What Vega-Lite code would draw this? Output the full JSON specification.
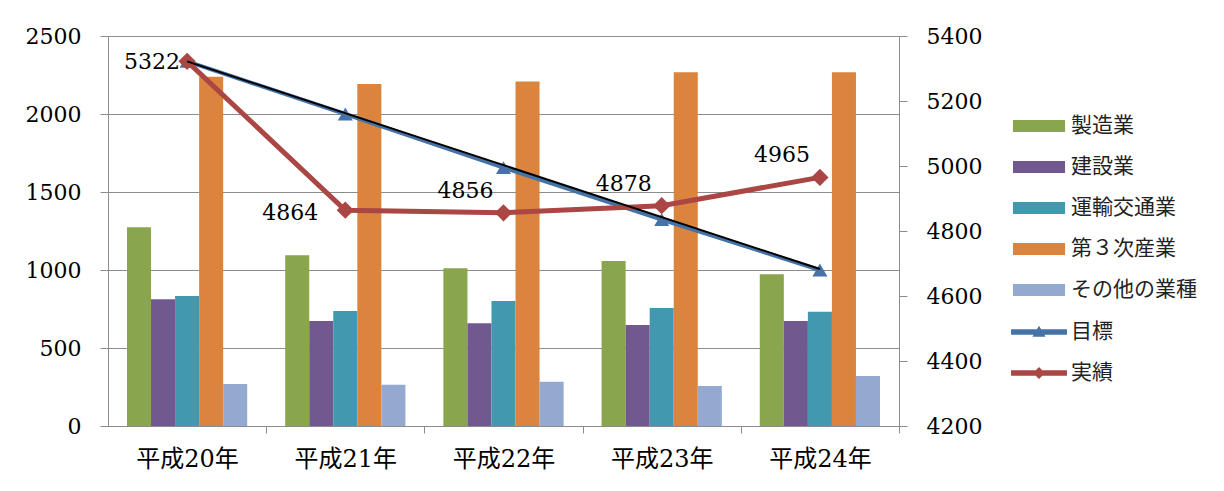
{
  "$schema": "https://vega.github.io/schema/vega-lite/v6.json",
  "width": 791,
  "height": 390,
  "autosize": {"type": "none"},
  "padding": {"left": 108, "top": 36, "right": 325, "bottom": 65},
  "background": "white",
  "config": {
    "view": {"stroke": null},
    "axis": {
      "domainColor": "#8c8c8c",
      "tickColor": "#8c8c8c",
      "gridColor": "#8c8c8c",
      "labelColor": "#000000",
      "labelFont": "DejaVu Serif, Noto Sans CJK JP",
      "labelFontSize": 22,
      "title": null
    },
    "legend": {
      "labelFont": "Noto Sans CJK JP",
      "labelFontSize": 21,
      "labelColor": "#222222",
      "padding": 0,
      "symbolSize": 576,
      "rowPadding": 19,
      "labelOffset": 20,
      "title": null
    }
  },
  "datasets": {
    "bars": [
      {"year": "平成20年", "industry": "製造業", "value": 1274},
      {"year": "平成20年", "industry": "建設業", "value": 812},
      {"year": "平成20年", "industry": "運輸交通業", "value": 833},
      {"year": "平成20年", "industry": "第３次産業", "value": 2239},
      {"year": "平成20年", "industry": "その他の業種", "value": 269},
      {"year": "平成21年", "industry": "製造業", "value": 1094},
      {"year": "平成21年", "industry": "建設業", "value": 673},
      {"year": "平成21年", "industry": "運輸交通業", "value": 737},
      {"year": "平成21年", "industry": "第３次産業", "value": 2192},
      {"year": "平成21年", "industry": "その他の業種", "value": 265},
      {"year": "平成22年", "industry": "製造業", "value": 1011},
      {"year": "平成22年", "industry": "建設業", "value": 658},
      {"year": "平成22年", "industry": "運輸交通業", "value": 801},
      {"year": "平成22年", "industry": "第３次産業", "value": 2209},
      {"year": "平成22年", "industry": "その他の業種", "value": 284},
      {"year": "平成23年", "industry": "製造業", "value": 1058},
      {"year": "平成23年", "industry": "建設業", "value": 647},
      {"year": "平成23年", "industry": "運輸交通業", "value": 756},
      {"year": "平成23年", "industry": "第３次産業", "value": 2267},
      {"year": "平成23年", "industry": "その他の業種", "value": 256},
      {"year": "平成24年", "industry": "製造業", "value": 972},
      {"year": "平成24年", "industry": "建設業", "value": 673},
      {"year": "平成24年", "industry": "運輸交通業", "value": 733},
      {"year": "平成24年", "industry": "第３次産業", "value": 2267},
      {"year": "平成24年", "industry": "その他の業種", "value": 320}
    ],
    "lines": [
      {"year": "平成20年", "series": "目標", "value": 5322},
      {"year": "平成21年", "series": "目標", "value": 5160},
      {"year": "平成22年", "series": "目標", "value": 4995},
      {"year": "平成23年", "series": "目標", "value": 4835},
      {"year": "平成24年", "series": "目標", "value": 4680},
      {"year": "平成20年", "series": "実績", "value": 5322},
      {"year": "平成21年", "series": "実績", "value": 4864},
      {"year": "平成22年", "series": "実績", "value": 4856},
      {"year": "平成23年", "series": "実績", "value": 4878},
      {"year": "平成24年", "series": "実績", "value": 4965},
      {"year": "平成20年", "series": "trend", "value": 5322},
      {"year": "平成24年", "series": "trend", "value": 4683}
    ]
  },
  "encoding": {
    "x": {
      "field": "year",
      "type": "nominal",
      "sort": ["平成20年", "平成21年", "平成22年", "平成23年", "平成24年"],
      "scale": {"paddingInner": 0.24, "paddingOuter": 0.12},
      "axis": {
        "labelAngle": 0,
        "labelFontSize": 24,
        "bandPosition": 1,
        "tickOffset": 19,
        "labelOffset": -19,
        "tickSize": 7,
        "labelPadding": 14,
        "domainColor": "#8c8c8c"
      }
    }
  },
  "layer": [
    {
      "data": {"name": "bars"},
      "mark": {"type": "bar"},
      "encoding": {
        "xOffset": {
          "field": "industry",
          "type": "nominal",
          "sort": ["製造業", "建設業", "運輸交通業", "第３次産業", "その他の業種"],
          "scale": {"paddingInner": 0, "paddingOuter": 0}
        },
        "y": {
          "field": "value",
          "type": "quantitative",
          "scale": {"domain": [0, 2500], "nice": false},
          "axis": {
            "values": [0, 500, 1000, 1500, 2000, 2500],
            "format": "d",
            "grid": true,
            "tickSize": 8,
            "labelPadding": 19
          }
        },
        "fill": {
          "field": "industry",
          "type": "nominal",
          "sort": ["製造業", "建設業", "運輸交通業", "第３次産業", "その他の業種"],
          "scale": {
            "domain": ["製造業", "建設業", "運輸交通業", "第３次産業", "その他の業種"],
            "range": ["#89a54e", "#71588f", "#4198af", "#db843d", "#93a9cf"]
          },
          "legend": {
            "orient": "none",
            "legendX": 919,
            "legendY": 78,
            "symbolType": "M-2.17,-0.5H2.17V0.5H-2.17Z",
            "symbolStrokeWidth": 0
          }
        }
      }
    },
    {
      "data": {"name": "lines"},
      "encoding": {
        "y": {
          "field": "value",
          "type": "quantitative",
          "scale": {"domain": [4200, 5400], "nice": false},
          "axis": {
            "orient": "right",
            "values": [4200, 4400, 4600, 4800, 5000, 5200, 5400],
            "format": "d",
            "grid": false,
            "tickSize": 8,
            "labelPadding": 19
          }
        }
      },
      "layer": [
        {
          "transform": [{"filter": "datum.series === '目標'"}],
          "mark": {"type": "line", "strokeWidth": 4, "color": "#4572a7"},
          "encoding": {}
        },
        {
          "transform": [{"filter": "datum.series === '目標'"}],
          "mark": {"type": "point", "filled": true, "opacity": 1, "shape": "triangle-up", "size": 225, "strokeWidth": 0, "color": "#4572a7"},
          "encoding": {}
        },
        {
          "transform": [{"filter": "datum.series === '実績'"}],
          "mark": {"type": "line", "strokeWidth": 5, "color": "#aa4643"},
          "encoding": {}
        },
        {
          "transform": [{"filter": "datum.series === '実績'"}],
          "mark": {"type": "point", "filled": true, "opacity": 1, "shape": "diamond", "size": 300, "strokeWidth": 0, "color": "#aa4643"},
          "encoding": {}
        },
        {
          "transform": [{"filter": "datum.series === 'trend'"}],
          "mark": {"type": "line", "strokeWidth": 2, "color": "#000000"},
          "encoding": {}
        },
        {
          "transform": [{"filter": "datum.series !== 'trend'"}],
          "mark": {"type": "point", "filled": true, "opacity": 1, "size": 0, "strokeWidth": 0},
          "encoding": {
            "color": {
              "field": "series",
              "type": "nominal",
              "scale": {"domain": ["目標", "実績"], "range": ["#4572a7", "#aa4643"]},
              "legend": {
                "orient": "none",
                "legendX": 919,
                "legendY": 284,
                "symbolOpacity": 1,
                "symbolStrokeWidth": 0
              }
            },
            "shape": {
              "field": "series",
              "type": "nominal",
              "scale": {
                "domain": ["目標", "実績"],
                "range": [
                  "M-2.33,-0.22H2.33V0.22H-2.33Z M-0.55,0.4L0,-0.52L0.55,0.4Z",
                  "M-2.33,-0.22H2.33V0.22H-2.33Z M0,-0.5L0.5,0L0,0.5L-0.5,0Z"
                ]
              },
              "legend": {
                "orient": "none",
                "legendX": 919,
                "legendY": 284,
                "symbolOpacity": 1,
                "symbolStrokeWidth": 0
              }
            }
          }
        },
        {
          "transform": [{"filter": "datum.series === '実績' && datum.year === '平成20年'"}],
          "mark": {"type": "text", "align": "right", "baseline": "middle", "dx": -7, "dy": 1, "font": "DejaVu Serif", "fontSize": 22, "color": "#000000"},
          "encoding": {"text": {"field": "value", "type": "quantitative", "format": "d"}}
        },
        {
          "transform": [{"filter": "datum.series === '実績' && datum.year === '平成21年'"}],
          "mark": {"type": "text", "align": "right", "baseline": "middle", "dx": -27, "dy": 3, "font": "DejaVu Serif", "fontSize": 22, "color": "#000000"},
          "encoding": {"text": {"field": "value", "type": "quantitative", "format": "d"}}
        },
        {
          "transform": [{"filter": "datum.series === '実績' && datum.year !== '平成20年' && datum.year !== '平成21年'"}],
          "mark": {"type": "text", "align": "right", "baseline": "middle", "dx": -10, "dy": -22, "font": "DejaVu Serif", "fontSize": 22, "color": "#000000"},
          "encoding": {"text": {"field": "value", "type": "quantitative", "format": "d"}}
        }
      ]
    }
  ],
  "resolve": {"scale": {"y": "independent"}}
}
